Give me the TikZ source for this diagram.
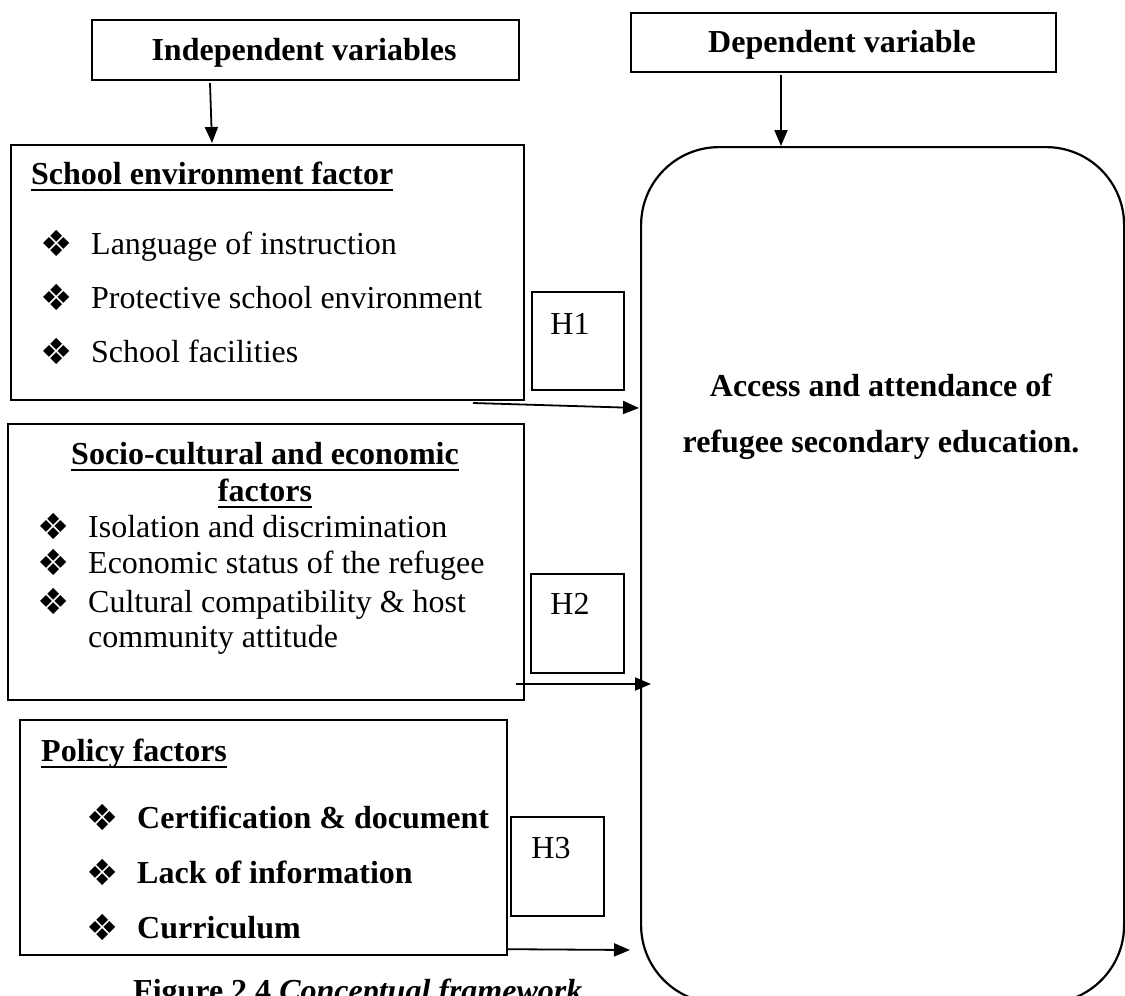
\documentclass[tikz,border=0pt]{standalone}
\usepackage{fontspec}
\setmainfont{Liberation Serif}
\newfontfamily\dvfont{DejaVu Sans}
\usetikzlibrary{arrows.meta}
\newcommand\bul{{\dvfont\fontsize{36}{36}\selectfont ❖}}
\newcommand\myul[1]{\setbox0\hbox{#1}\rlap{\usebox0}\rule[-7pt]{\wd0}{2.5pt}}
\begin{document}
\begin{tikzpicture}[x=1pt,y=-1pt,
  txt/.style={font=\fontsize{32}{37}\selectfont, inner sep=0pt},
  btxt/.style={font=\fontsize{32}{37}\selectfont\bfseries, inner sep=0pt},
  bulnode/.style={inner sep=0pt, anchor=center},
  bigbox/.style={draw, line width=2.2pt, inner sep=0pt, anchor=north west},
  hbox/.style={draw, line width=1.8pt, inner sep=0pt, anchor=north west},
  arr/.style={line width=1.8pt, -{Triangle[length=16pt,width=13pt]}}]
\clip (0,0) rectangle (1125,996);
\useasboundingbox (0,0) rectangle (1125,996);

% header boxes
\node[bigbox, minimum width=427pt, minimum height=60pt] (iv) at (91,19) {};
\node[btxt] (ivt) at (304,53) {Independent variables};
\node[bigbox, minimum width=425pt, minimum height=59pt] (dvh) at (630,12) {};
\node[btxt] (dvht) at (842,45) {Dependent variable};

% dependent variable box
\node[draw, line width=2.2pt, rounded corners=78pt, minimum width=483pt, minimum height=856pt, inner sep=0pt, anchor=north west] (dv) at (640,146) {};
\node[btxt, anchor=base] (dv1) at (881,396) {Access and attendance of};
\node[btxt, anchor=base] (dv2) at (881,452) {refugee secondary education.};

% school environment box
\node[bigbox, minimum width=513pt, minimum height=255pt] (sch) at (10,144) {};
\node[btxt, anchor=base west] (schh) at (31,184) {\myul{School environment factor}};
\node[bulnode] (sb1) at (57,243) {\bul};
\node[bulnode] (sb2) at (57,297) {\bul};
\node[bulnode] (sb3) at (57,351) {\bul};
\node[txt, anchor=base west] (s1) at (91,254) {Language of instruction};
\node[txt, anchor=base west] (s2) at (91,308) {Protective school environment};
\node[txt, anchor=base west] (s3) at (91,362) {School facilities};
\node[hbox, minimum width=92pt, minimum height=98pt] (h1) at (531,291) {};
\node[txt, anchor=base] (h1t) at (570,334) {H1};

% socio-cultural box
\node[bigbox, minimum width=516pt, minimum height=276pt] (soc) at (7,423) {};
\node[btxt, anchor=base] (soch1) at (265,464) {\myul{Socio-cultural and economic}};
\node[btxt, anchor=base] (soch2) at (265,501) {\myul{factors}};
\node[bulnode] (cb1) at (54,526) {\bul};
\node[bulnode] (cb2) at (54,562) {\bul};
\node[bulnode] (cb3) at (54,601) {\bul};
\node[txt, anchor=base west] (c1) at (88,537) {Isolation and discrimination};
\node[txt, anchor=base west] (c2) at (88,573) {Economic status of the refugee};
\node[txt, anchor=base west] (c3) at (88,612) {Cultural compatibility \& host};
\node[txt, anchor=base west] (c4) at (88,647) {community attitude};
\node[hbox, minimum width=93pt, minimum height=99pt] (h2) at (530,573) {};
\node[txt, anchor=base] (h2t) at (570,614) {H2};

% policy box
\node[bigbox, minimum width=487pt, minimum height=235pt] (pol) at (19,719) {};
\node[btxt, anchor=base west] (polh) at (41,761) {\myul{Policy factors}};
\node[bulnode] (pb1) at (103,817) {\bul};
\node[bulnode] (pb2) at (103,872) {\bul};
\node[bulnode] (pb3) at (103,927) {\bul};
\node[btxt, anchor=base west] (p1) at (137,828) {Certification \& document};
\node[btxt, anchor=base west] (p2) at (137,883) {Lack of information};
\node[btxt, anchor=base west] (p3) at (137,938) {Curriculum};
\node[hbox, minimum width=93pt, minimum height=99pt] (h3) at (510,816) {};
\node[txt, anchor=base] (h3t) at (551,858) {H3};

% caption (cut off at the bottom edge, as in the reference)
\node[anchor=base west, inner sep=0pt, font=\fontsize{32}{37}\selectfont\bfseries] (cap) at (133,1001) {Figure 2.4 \textit{Conceptual framework}};

% connectors
\coordinate (a0s) at (210,83);
\coordinate (a0e) at (212,143);
\draw[arr] (a0s) -- (a0e);
\coordinate (adv) at (781,75);
\draw[arr] (adv) -- (adv |- dv.north);
\coordinate (a1s) at (473,403);
\coordinate (a1e) at (639,408);
\draw[arr] (a1s) -- (a1e);
\coordinate (a2s) at (516,684);
\coordinate (a2e) at (651,684);
\draw[arr] (a2s) -- (a2e);
\coordinate (a3s) at (pol.south east);
\coordinate (a3e) at (630,950);
\draw[arr] ([yshift=7pt]a3s) -- (a3e);
\end{tikzpicture}
\end{document}
